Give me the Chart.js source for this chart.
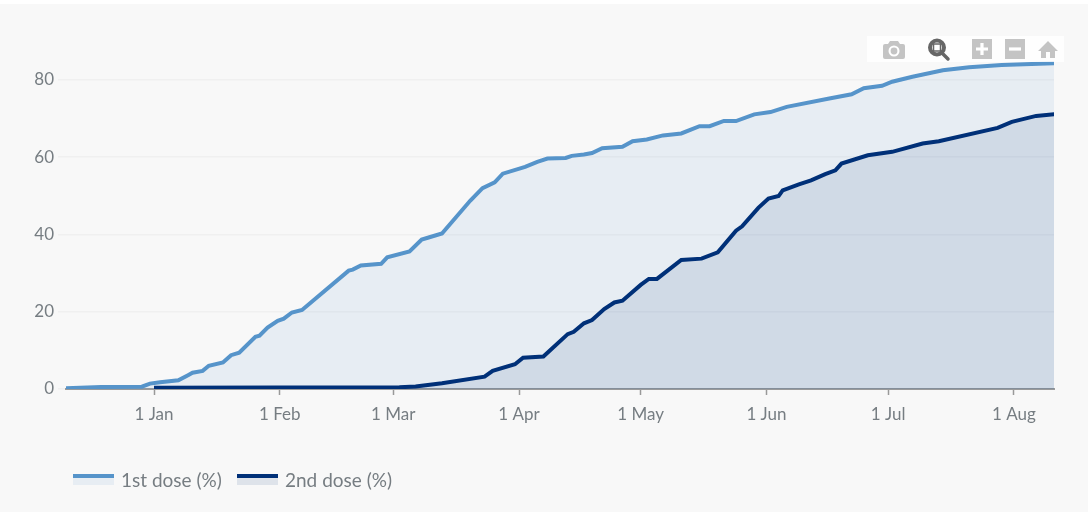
<!DOCTYPE html>
<html>
<head>
<meta charset="utf-8">
<script src="https://cdn.jsdelivr.net/npm/chart.js@4/dist/chart.umd.min.js"></script>
<style>
  html, body { margin: 0; padding: 0; background: #f8f8f8; overflow: hidden; }
  #page { position: relative; width: 1088px; height: 512px; }
  #topstrip { position: absolute; left: 0; top: 0; width: 1088px; height: 4px; background: #fff; }
  #chart { position: absolute; left: 0; top: 0; }
  #modebar { position: absolute; left: 867px; top: 36px; width: 197px; height: 26px; background: rgba(255,255,255,.8); }
  #modebar svg { position: absolute; left: 0; top: 0; }
  #legend { position: absolute; left: 0; top: 0; font: 19px Lato, sans-serif; color: #767d82; }
  .item { position: absolute; top: 468px; height: 24px; line-height: 24px; white-space: nowrap; }
  .swatch { position: absolute; left: 0; top: 6px; width: 41px; height: 10px; }
  .item span { position: absolute; left: 48px; top: 0; }
</style>
</head>
<body>
<div id="page">
  <div id="topstrip"></div>
  <canvas id="chart" width="1088" height="512"></canvas>
  <div id="modebar">
    <svg width="197" height="26" viewBox="0 0 197 26">
      <!-- camera -->
      <path fill="#c4c4c4" d="M18 8h3l2-3h8l2 3h3a2 2 0 0 1 2 2v11a2 2 0 0 1-2 2H18a2 2 0 0 1-2-2V10a2 2 0 0 1 2-2z"/>
      <circle cx="27" cy="15" r="5.5" fill="#fff"/>
      <circle cx="27" cy="15" r="3.4" fill="#c4c4c4"/>
      <!-- zoom -->
      <circle cx="70" cy="11.5" r="7" fill="none" stroke="#666" stroke-width="4"/>
      <rect x="66.5" y="8" width="7" height="7" fill="none" stroke="#666" stroke-width="1.5"/>
      <path d="M75 17l6 6" stroke="#666" stroke-width="3.5" stroke-linecap="round"/>
      <!-- zoom in -->
      <rect x="105" y="3" width="20" height="20" fill="#c4c4c4"/>
      <path d="M109 13h12M115 7v12" stroke="#fff" stroke-width="3.2"/>
      <!-- zoom out -->
      <rect x="138" y="3" width="20" height="20" fill="#c4c4c4"/>
      <path d="M142 13h12" stroke="#fff" stroke-width="3.2"/>
      <!-- home -->
      <path fill="#c4c4c4" d="M181 5l10 10h-3v7h-5v-6h-4v6h-5v-7h-3z"/>
    </svg>
  </div>
  <div id="legend"></div>
</div>
<script>
  // Days since 1 Jan
  const firstDays = [-22, -13, -3, -1, 1.5, 6, 8.5, 9.5, 12, 13.5, 17, 19, 21, 25, 26, 28, 30.5, 32, 34, 36.5, 48, 49, 51, 56, 57.5, 63, 66, 67.5, 71, 78, 81, 84, 86, 91.5, 94.5, 97, 101.5, 103, 106, 108, 110.5, 115.5, 118, 121.5, 125.5, 130, 134.5, 137, 140.5, 143.5, 148, 152, 156, 166.5, 172, 175, 179.5, 182, 187, 194.5, 201, 209, 222];
  const firstDose = [0.2, 0.55, 0.6, 1.4, 1.75, 2.25, 3.65, 4.2, 4.7, 6.0, 6.85, 8.75, 9.4, 13.5, 13.8, 15.9, 17.65, 18.2, 19.8, 20.45, 30.65, 30.9, 32.0, 32.4, 34.1, 35.6, 38.7, 39.15, 40.25, 48.8, 52.0, 53.5, 55.75, 57.5, 58.8, 59.65, 59.8, 60.35, 60.7, 61.1, 62.35, 62.7, 64.15, 64.6, 65.65, 66.15, 68.05, 68.05, 69.4, 69.35, 71.1, 71.7, 73.05, 75.2, 76.3, 77.85, 78.5, 79.55, 80.85, 82.5, 83.3, 83.9, 84.3];

  const secondDays = [0, 60.5, 64.5, 71, 81.5, 83.5, 89, 91, 96, 102, 103.5, 106, 108, 111, 113.5, 115.5, 120, 122, 124, 130, 135, 139, 143.5, 145, 149, 151.5, 154, 155, 159, 162, 165.5, 168, 169.5, 176, 182, 189.5, 193.5, 208, 211.5, 217.5, 222];
  const secondDose = [0.35, 0.45, 0.65, 1.5, 3.2, 4.7, 6.4, 8.1, 8.4, 14.2, 14.8, 17.0, 17.85, 20.7, 22.4, 22.85, 26.95, 28.5, 28.5, 33.4, 33.75, 35.4, 41.0, 42.1, 46.9, 49.3, 49.95, 51.4, 53.0, 54.0, 55.6, 56.6, 58.35, 60.5, 61.4, 63.55, 64.15, 67.6, 69.15, 70.7, 71.15];

  const xTickDays = [0, 31, 59, 90, 120, 151, 181, 212];
  const xTickLabels = ["1 Jan", "1 Feb", "1 Mar", "1 Apr", "1 May", "1 Jun", "1 Jul", "1 Aug"];
  const yTicks = [0, 20, 40, 60, 80];

  const seriesNames = ["1st dose (%)", "2nd dose (%)"];
  const textColor = "#767d82";
  const tickFont = { family: "Lato", size: 17 };

  function toPoints(days, values) {
    return days.map((d, i) => ({ x: d, y: values[i] }));
  }

  const chart = new Chart(document.getElementById("chart").getContext("2d"), {
    type: "line",
    data: {
      datasets: [
        {
          label: seriesNames[0],
          data: toPoints(firstDays, firstDose),
          borderColor: "#5694ca",
          backgroundColor: "rgba(86, 148, 202, 0.1)",
          borderWidth: 4,
          fill: "origin",
          pointRadius: 0,
          tension: 0,
          order: 1,
        },
        {
          label: seriesNames[1],
          data: toPoints(secondDays, secondDose),
          borderColor: "#003078",
          backgroundColor: "rgba(0, 48, 120, 0.1)",
          borderWidth: 4,
          fill: "origin",
          pointRadius: 0,
          tension: 0,
          order: 0,
        },
      ],
    },
    options: {
      responsive: false,
      animation: false,
      layout: { padding: { top: 51, right: 34, left: 0, bottom: 0 } },
      plugins: { legend: { display: false }, title: { display: false } },
      scales: {
        x: {
          type: "linear",
          min: -21.7,
          max: 221.9,
          afterBuildTicks: (scale) => {
            scale.ticks = xTickDays.map((d) => ({ value: d }));
          },
          afterFit: (scale) => {
            scale.height = 123;
          },
          grid: { drawOnChartArea: false, drawTicks: true, tickLength: 6, tickColor: "#999", tickWidth: 1.5 },
          border: { display: true, color: "#9a9a9a", width: 2 },
          ticks: {
            autoSkip: false,
            maxRotation: 0,
            padding: 9,
            color: textColor,
            font: tickFont,
            callback: (value) => xTickLabels[xTickDays.indexOf(value)],
          },
        },
        y: {
          min: 0,
          max: 87.5,
          afterBuildTicks: (scale) => {
            scale.ticks = yTicks.map((v) => ({ value: v }));
          },
          afterFit: (scale) => {
            scale.width = 66;
          },
          grid: { color: "#f0f0f0", lineWidth: 1.5, tickLength: 8 },
          border: { display: false },
          ticks: { padding: 4, color: textColor, font: tickFont },
        },
      },
    },
  });

  // Legenda HTML: garis di atas, isi area di bawahnya
  const legendEl = document.getElementById("legend");
  const legendLeft = [73, 237];
  chart.data.datasets.forEach((ds, i) => {
    const item = document.createElement("div");
    item.className = "item";
    item.style.left = legendLeft[i] + "px";
    const swatch = document.createElement("div");
    swatch.className = "swatch";
    swatch.style.background = ds.backgroundColor;
    swatch.style.borderTop = "4px solid " + ds.borderColor;
    swatch.style.height = "7px";
    const label = document.createElement("span");
    label.textContent = ds.label;
    item.appendChild(swatch);
    item.appendChild(label);
    legendEl.appendChild(item);
  });
</script>
</body>
</html>
